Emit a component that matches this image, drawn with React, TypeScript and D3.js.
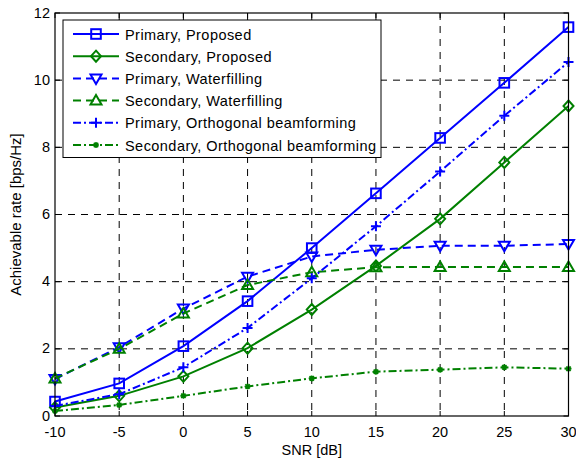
import React from "react";
import * as d3 from "d3";

const snr = [-10, -5, 0, 5, 10, 15, 20, 25, 30];
const primaryProposed = [0.43, 0.97, 2.08, 3.42, 5.0, 6.63, 8.28, 9.92, 11.58];
const secondaryProposed = [0.25, 0.6, 1.18, 2.02, 3.17, 4.47, 5.87, 7.55, 9.23];
const primaryWaterfilling = [1.1, 2.05, 3.2, 4.15, 4.75, 4.95, 5.07, 5.07, 5.12];
const secondaryWaterfilling = [1.12, 2.0, 3.05, 3.9, 4.28, 4.43, 4.44, 4.44, 4.44];
const primaryOrthogonal = [0.3, 0.65, 1.45, 2.62, 4.1, 5.65, 7.28, 8.94, 10.54];
const secondaryOrthogonal = [0.15, 0.33, 0.6, 0.88, 1.12, 1.32, 1.38, 1.45, 1.41];

const xTicks = [-10, -5, 0, 5, 10, 15, 20, 25, 30];
const yTicks = [0, 2, 4, 6, 8, 10, 12];

const seriesNames = [
  "Primary, Proposed",
  "Secondary, Proposed",
  "Primary, Waterfilling",
  "Secondary, Waterfilling",
  "Primary, Orthogonal beamforming",
  "Secondary, Orthogonal beamforming",
];

const BLUE = "#0000ff";
const GREEN = "#008000";

type Series = { name: string; values: number[]; color: string; dash: string; marker: string };

const series: Series[] = [
  { name: seriesNames[0], values: primaryProposed, color: BLUE, dash: "", marker: "square" },
  { name: seriesNames[1], values: secondaryProposed, color: GREEN, dash: "", marker: "diamond" },
  { name: seriesNames[2], values: primaryWaterfilling, color: BLUE, dash: "8,5", marker: "down" },
  { name: seriesNames[3], values: secondaryWaterfilling, color: GREEN, dash: "8,5", marker: "up" },
  { name: seriesNames[4], values: primaryOrthogonal, color: BLUE, dash: "8,3,2,3", marker: "plus" },
  { name: seriesNames[5], values: secondaryOrthogonal, color: GREEN, dash: "8,3,2,3", marker: "star" },
];

function Marker({ type, x, y, color }: { type: string; x: number; y: number; color: string }) {
  const sw = 2;
  if (type === "square") {
    return <rect x={x - 4.8} y={y - 4.8} width={9.6} height={9.6} fill="none" stroke={color} strokeWidth={sw} />;
  }
  if (type === "diamond") {
    return <path d={`M${x},${y - 5.5}L${x + 5},${y}L${x},${y + 5.5}L${x - 5},${y}Z`} fill="none" stroke={color} strokeWidth={sw} />;
  }
  if (type === "down") {
    return <path d={`M${x - 5.5},${y - 4}L${x + 5.5},${y - 4}L${x},${y + 5.5}Z`} fill="none" stroke={color} strokeWidth={sw} />;
  }
  if (type === "up") {
    return <path d={`M${x - 5.5},${y + 4}L${x + 5.5},${y + 4}L${x},${y - 5.5}Z`} fill="none" stroke={color} strokeWidth={sw} />;
  }
  if (type === "plus") {
    return <path d={`M${x - 5},${y}L${x + 5},${y}M${x},${y - 5}L${x},${y + 5}`} stroke={color} strokeWidth={sw} />;
  }
  return (
    <path
      d={`M${x - 3},${y}L${x + 3},${y}M${x},${y - 3}L${x},${y + 3}M${x - 2.2},${y - 2.2}L${x + 2.2},${y + 2.2}M${x - 2.2},${y + 2.2}L${x + 2.2},${y - 2.2}`}
      stroke={color}
      strokeWidth={1.6}
    />
  );
}

export default function App() {
  const W = 576, H = 460;
  const left = 55, right = 568.5, top = 13, bottom = 416;
  const x = d3.scaleLinear().domain([-10, 30]).range([left, right]);
  const y = d3.scaleLinear().domain([0, 12]).range([bottom, top]);
  const line = d3.line<number>().x((_, i) => x(snr[i])).y((v) => y(v));
  const font = "Liberation Sans, Arial, sans-serif";

  const legX = 63, legY = 20, legW = 318, legH = 137.5;
  const rowH = 22.2;

  return (
    <svg width={W} height={H} style={{ position: "absolute", left: 0, top: 0 }} fontFamily={font}>
      <rect width={W} height={H} fill="#fff" />
      {xTicks.slice(1, -1).map((t) => (
        <line key={"gx" + t} x1={x(t)} x2={x(t)} y1={top} y2={bottom} stroke="#000" strokeWidth={1} strokeDasharray="7,6" />
      ))}
      {yTicks.slice(1, -1).map((t) => (
        <line key={"gy" + t} x1={left} x2={right} y1={y(t)} y2={y(t)} stroke="#000" strokeWidth={1} strokeDasharray="7,6" />
      ))}
      {xTicks.map((t) => (
        <g key={"tx" + t}>
          <line x1={x(t)} x2={x(t)} y1={bottom} y2={bottom - 5} stroke="#000" />
          <line x1={x(t)} x2={x(t)} y1={top} y2={top + 5} stroke="#000" />
          <text x={x(t)} y={bottom + 20.5} textAnchor="middle" fontSize={14.5}>{t}</text>
        </g>
      ))}
      {yTicks.map((t) => (
        <g key={"ty" + t}>
          <line x1={left} x2={left + 5} y1={y(t)} y2={y(t)} stroke="#000" />
          <line x1={right} x2={right - 5} y1={y(t)} y2={y(t)} stroke="#000" />
          <text x={left - 5} y={y(t) + 4.5} textAnchor="end" fontSize={14.5}>{t}</text>
        </g>
      ))}
      {series.map((s) => (
        <g key={s.name}>
          <path d={line(s.values) || ""} fill="none" stroke={s.color} strokeWidth={2} strokeDasharray={s.dash} />
          {s.values.map((v, i) => (
            <Marker key={i} type={s.marker} x={x(snr[i])} y={y(v)} color={s.color} />
          ))}
        </g>
      ))}
      <rect x={left} y={top} width={right - left} height={bottom - top} fill="none" stroke="#000" strokeWidth={1.2} />
      <rect x={legX} y={legY} width={legW} height={legH} fill="#fff" stroke="#000" strokeWidth={1} />
      {series.map((s, i) => {
        const cy = legY + 14 + i * rowH;
        return (
          <g key={"leg" + i}>
            <line x1={legX + 10} x2={legX + 56} y1={cy} y2={cy} stroke={s.color} strokeWidth={2} strokeDasharray={s.dash} />
            <Marker type={s.marker} x={legX + 33} y={cy} color={s.color} />
            <text x={legX + 62} y={cy + 5.5} fontSize={14.5} letterSpacing={0.45}>{s.name}</text>
          </g>
        );
      })}
      <text x={(left + right) / 2} y={455} textAnchor="middle" fontSize={14.5}>SNR [dB]</text>
      <text transform={`translate(21,${(top + bottom) / 2}) rotate(-90)`} textAnchor="middle" fontSize={15}>Achievable rate [bps/Hz]</text>
    </svg>
  );
}
